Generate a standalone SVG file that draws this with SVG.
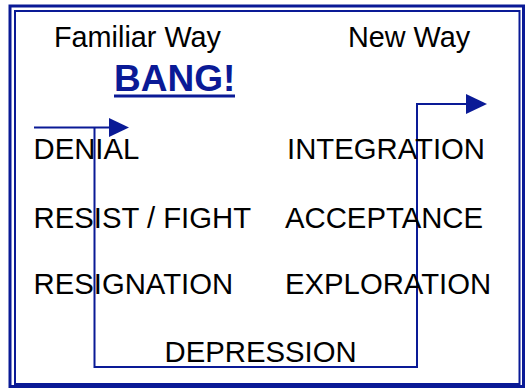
<svg xmlns="http://www.w3.org/2000/svg" width="527" height="388" viewBox="0 0 527 388">
  <style>
    .t { font-family: "Liberation Sans", Arial, sans-serif; font-size: 29.3px; fill: #000; }
    .h { font-family: "Liberation Sans", Arial, sans-serif; font-size: 28.8px; fill: #000; }
    .bang { font-family: "Liberation Sans", Arial, sans-serif; font-size: 37px; font-weight: bold; fill: #0a1a96; }
    .line { fill: none; stroke: #0a1a96; }
    .head { fill: #0a1a96; }
  </style>
  <rect x="0" y="0" width="527" height="388" fill="#fff"/>
  <g id="frame">
    <rect x="10" y="6" width="513.5" height="380.5" fill="none" stroke="#0a1a96" stroke-width="3"/>
    <rect x="15" y="11" width="504.5" height="373" fill="none" stroke="#0a1a96" stroke-width="2"/>
  </g>
  <g id="headers">
    <text class="h" x="54" y="47">Familiar Way</text>
    <text class="h" x="348" y="47">New Way</text>
  </g>
  <g id="bang">
    <text class="bang" x="114" y="90.5">BANG!</text>
    <rect x="114" y="94.5" width="121" height="3" fill="#0a1a96"/>
  </g>
  <g id="connectors">
    <path class="line" d="M34 127.5 H110" stroke-width="2"/>
    <polygon class="head" points="109,118 129,127.5 109,137"/>
    <path class="line" d="M94.5 127.5 V367 H417 V104 H467" stroke-width="2"/>
    <polygon class="head" points="466,94 487,104 466,114"/>
  </g>
  <g id="denial"><text class="t" x="33.5" y="158.5">DENIAL</text></g>
  <g id="integration"><text class="t" x="287" y="158.5">INTEGRATION</text></g>
  <g id="resist"><text class="t" x="33.5" y="227.5">RESIST / FIGHT</text></g>
  <g id="acceptance"><text class="t" x="285" y="227.5">ACCEPTANCE</text></g>
  <g id="resignation"><text class="t" x="33.5" y="294">RESIGNATION</text></g>
  <g id="exploration"><text class="t" x="285" y="294">EXPLORATION</text></g>
  <g id="depression"><text class="t" x="164.5" y="362">DEPRESSION</text></g>
</svg>
